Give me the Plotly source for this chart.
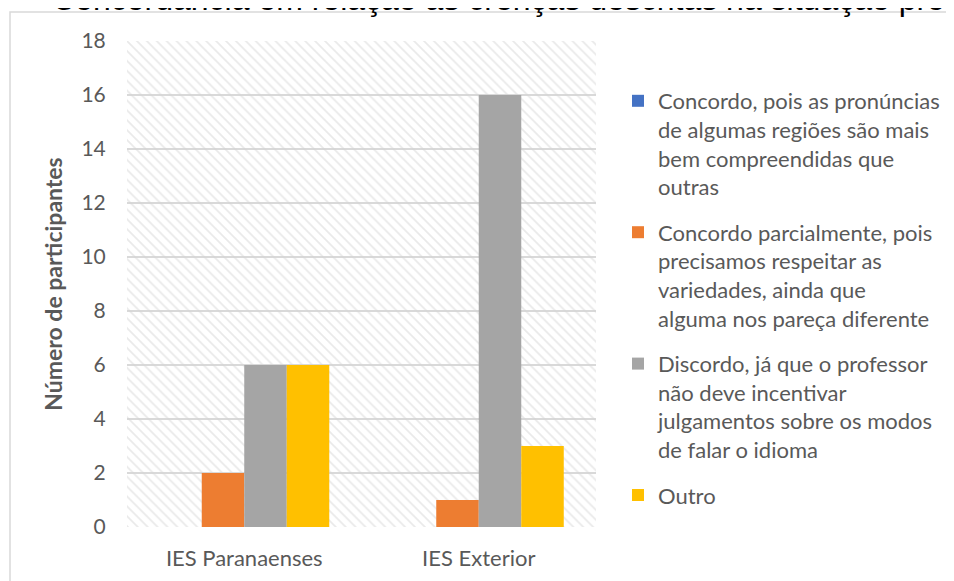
import plotly.graph_objects as go

# ---- data ----
categories = ["IES Paranaenses", "IES Exterior"]
series_names = [
    "Concordo, pois as pronúncias<br>de algumas regiões são mais<br>bem compreendidas que<br>outras",
    "Concordo parcialmente, pois<br>precisamos respeitar as<br>variedades, ainda que<br>alguma nos pareça diferente",
    "Discordo, já que o professor<br>não deve incentivar<br>julgamentos sobre os modos<br>de falar o idioma",
    "Outro",
]
concordo = [0, 0]
concordo_parcial = [2, 1]
discordo = [6, 16]
outro = [6, 3]
series_values = [concordo, concordo_parcial, discordo, outro]
colors = ["#4472C4", "#ED7D31", "#A5A5A5", "#FFC000"]
y_ticks = [0, 2, 4, 6, 8, 10, 12, 14, 16, 18]

# page layout (page pixels; body has an 8px default margin)
OFF = 8
W, H = 954 - OFF, 581 - OFF
PL, PR, PT, PB = 127, 596, 41, 527          # plot area in page pixels
L, T = PL - OFF, PT - OFF
R, B = W - (PR - OFF), H - (PB - OFF)
PW, PH = W - L - R, H - T - B

def px_x(p):  # page x -> paper x
    return (p - OFF - L) / PW

def px_y(p):  # page y -> paper y
    return 1 - (p - OFF - T) / PH

fig = go.Figure()

# hatched plot-area background (main hidden axes, drawn beneath overlay)
fig.add_trace(go.Scatter(
    x=[0, 1, 1, 0, 0], y=[0, 0, 1, 1, 0], fill="toself", mode="lines",
    line=dict(width=0), fillcolor="rgba(0,0,0,0)",
    fillpattern=dict(shape="\\", fgcolor="#d4d4d4", bgcolor="rgba(0,0,0,0)",
                     size=7, solidity=0.25),
    showlegend=False, hoverinfo="skip", xaxis="x", yaxis="y",
))

for i, (name, vals, col) in enumerate(zip(series_names, series_values, colors)):
    fig.add_trace(go.Bar(
        x=categories, y=vals, name=name, marker=dict(color=col, line=dict(width=0)),
        xaxis="x2", yaxis="y2", legendgroup=f"g{i}",
    ))

font_main = "Lato, Calibri, sans-serif"
gray = "#595959"
title_font = dict(family="Liberation Sans, Arial", size=32, color="black")

fig.update_layout(
    width=W, height=H,
    margin=dict(l=L, r=R, t=T, b=B, autoexpand=False),
    paper_bgcolor="white", plot_bgcolor="white",
    barmode="group", bargap=0.275, bargroupgap=0,
    font=dict(family=font_main, color=gray),
    xaxis=dict(range=[0, 1], visible=False, fixedrange=True),
    yaxis=dict(range=[0, 1], visible=False, fixedrange=True),
    xaxis2=dict(overlaying="x", anchor="y2", side="bottom", type="category",
                showgrid=False, zeroline=False, showline=False,
                ticks="outside", ticklen=12, tickcolor="rgba(0,0,0,0)",
                tickfont=dict(size=22, color=gray, family=font_main)),
    yaxis2=dict(overlaying="y", anchor="x2", side="left", range=[0, 18],
                tickvals=y_ticks, showgrid=True, gridcolor="#d9d9d9", gridwidth=1.5,
                zeroline=False, showline=False,
                ticks="outside", ticklen=16, tickcolor="rgba(0,0,0,0)",
                tickfont=dict(size=21, color=gray, family=font_main),
                title=dict(text="<b>Número de participantes</b>", standoff=12,
                           font=dict(size=23, color=gray, family=font_main))),
    legend=dict(x=px_x(618), y=px_y(80), xanchor="left", yanchor="top",
                font=dict(size=22, color=gray, family=font_main),
                valign="top", traceorder="grouped", tracegroupgap=14,
                bgcolor="rgba(0,0,0,0)"),
    shapes=[dict(type="rect", xref="paper", yref="paper",
                 x0=px_x(10), x1=px_x(1100), y0=px_y(12), y1=px_y(700),
                 line=dict(color="#d9d9d9", width=1.5), fillcolor="rgba(0,0,0,0)",
                 layer="above")],
    annotations=[
        dict(text="7", xref="paper", yref="paper", x=px_x(-7), y=px_y(-1),
             xanchor="left", yanchor="middle", showarrow=False, font=title_font),
        dict(text="Concordância em relação às crenças descritas na situação profissional",
             xref="paper", yref="paper", x=px_x(50), y=px_y(-1),
             xanchor="left", yanchor="middle", showarrow=False, font=title_font),
    ],
)

fig.write_html("out.html")
